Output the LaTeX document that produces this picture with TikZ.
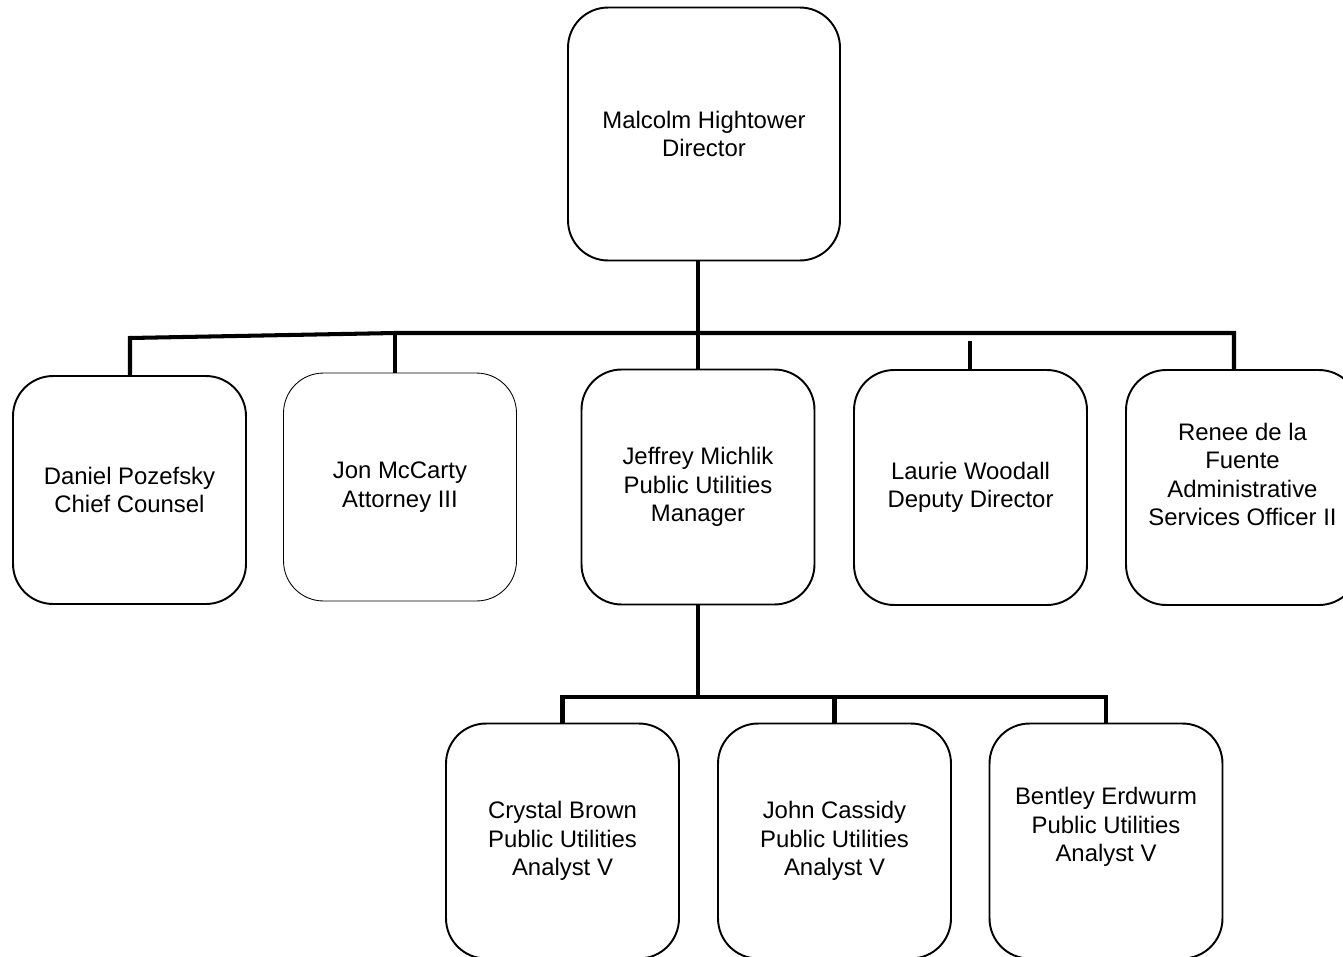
\documentclass[tikz,border=0pt]{standalone}
\usepackage{fontspec}
\setmainfont{Liberation Sans}
\begin{document}
\begin{tikzpicture}[x=0.02cm, y=-0.02cm,
  box/.style = {shape=rectangle, rounded corners=0.8cm, draw, line width=1.1pt, align=center, minimum width=4.66cm, minimum height=4.7cm},
  wire/.style = {line width=2.3pt},
  every label/.style = {align=center},
  font=\fontsize{13.6}{16.2}\selectfont]
\useasboundingbox (0,0) rectangle (1343,957);
% director
\node[box, minimum width=5.44cm, minimum height=5.06cm] (director) at (704,134) {Malcolm Hightower\\Director};
% second row
\node[box, minimum height=4.56cm] (daniel) at (129.5,490) {Daniel Pozefsky\\Chief Counsel};
\node[box, line width=0.5pt, minimum height=4.56cm] (jon) at (400,487) {Jon McCarty\\Attorney III};
\node[box] (jeffrey) at (698,487) {Jeffrey Michlik\\Public Utilities\\Manager};
\node[box] (laurie) at (970.5,487.5) {Laurie Woodall\\Deputy Director};
\node[box, label={[yshift=0.26cm]center:Renee de la\\Fuente\\Administrative\\Services Officer II}] (renee) at (1242.5,487.5) {};
% third row
\node[box] (crystal) at (562.5,841) {Crystal Brown\\Public Utilities\\Analyst V};
\node[box] (john) at (834.5,841) {John Cassidy\\Public Utilities\\Analyst V};
\node[box, label={[yshift=0.28cm]center:Bentley Erdwurm\\Public Utilities\\Analyst V}] (bentley) at (1106,841) {};
% top bar
\coordinate (t1) at (130,338);
\coordinate (t2) at (395,333);
\coordinate (t4) at (970,341);
\coordinate (t5) at (1234,333);
\draw[wire] (director.south -| jeffrey.north) -- (jeffrey.north);
\draw[wire] (daniel.north -| t1) -- (t1) -- (t2) -- (t5) -- (renee.north -| t5);
\draw[wire] (t2) -- (jon.north -| t2);
\draw[wire] (t4) -- (laurie.north -| t4);
% lower bar
\coordinate (b1) at (563,697);
\draw[wire] (jeffrey.south) -- (jeffrey.south |- b1);
\draw[wire] (crystal.north) -- (crystal.north |- b1) -- (bentley.north |- b1) -- (bentley.north);
\draw[wire] (john.north |- b1) -- (john.north);
\end{tikzpicture}
\end{document}
